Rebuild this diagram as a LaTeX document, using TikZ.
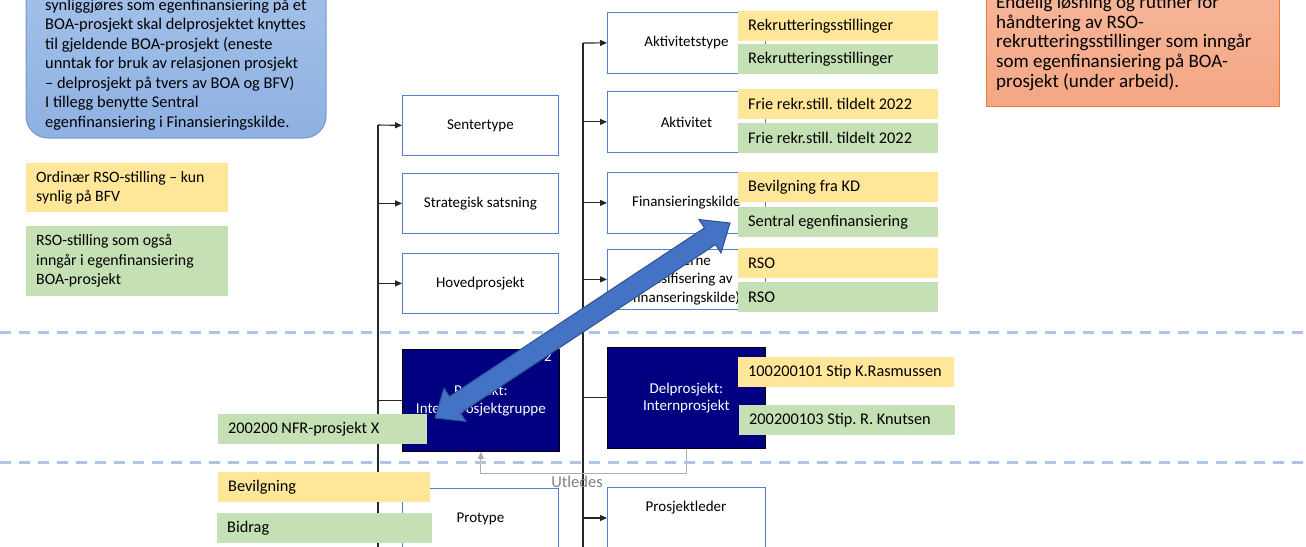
\documentclass[tikz,border=0pt]{standalone}
\usepackage{fontspec}
\setmainfont{Carlito}
\usetikzlibrary{arrows.meta,calc}
\frenchspacing

\definecolor{boxblue}{RGB}{82,128,210}
\definecolor{yelfill}{RGB}{255,230,153}
\definecolor{grnfill}{RGB}{197,224,180}
\definecolor{navyfill}{RGB}{0,0,128}
\definecolor{sepblue}{RGB}{176,196,230}
\definecolor{arrowblue}{RGB}{68,114,196}
\definecolor{arrowline}{RGB}{47,82,143}
\definecolor{notetop}{RGB}{165,195,234}
\definecolor{notebot}{RGB}{143,177,226}
\definecolor{noteline}{RGB}{112,152,214}
\definecolor{orgtop}{RGB}{246,186,158}
\definecolor{orgbot}{RGB}{245,166,132}
\definecolor{orgline}{RGB}{237,125,49}

\begin{document}
\begin{tikzpicture}[x=1pt,y=-1pt,
    box/.style={draw=boxblue, line width=0.8pt, fill=white, minimum width=156pt, minimum height=60pt, inner sep=0pt, anchor=north west, align=center, font=\fontsize{15}{18.5}\selectfont},
    dark/.style={draw=black, line width=0.8pt, fill=navyfill, text=white, minimum width=157pt, minimum height=102pt, inner sep=0pt, anchor=north west, align=center, font=\fontsize{15}{17.5}\selectfont},
    lab/.style={minimum height=30pt, text width=#1, inner xsep=10pt, inner ysep=0pt, anchor=north west, align=flush left, font=\fontsize{16.3}{19}\selectfont},
    lab/.default=180pt,
    ylab/.style={lab=#1, fill=yelfill}, ylab/.default=180pt,
    glab/.style={lab=#1, fill=grnfill}, glab/.default=180pt,
    trunk/.style={line width=1.1pt, black!85},
    feed/.style={trunk, -{Triangle[length=7pt,width=6pt]}},
    utl/.style={line width=1.1pt, black!32, -{Triangle[length=7pt,width=6pt]}},
    sep/.style={line width=3pt, sepblue, dash pattern=on 11pt off 8pt},
    note/.style={anchor=north west, inner sep=0pt, align=left, font=\fontsize{16.4}{19.5}\selectfont}]
  \useasboundingbox (0,0) rectangle (1306,546);
  \clip (0,0) rectangle (1306,546);

  % notes
  \shade[top color=notetop, bottom color=notebot, draw=noteline, line width=1pt, rounded corners=22pt] (26,-40) rectangle (326,138);
  \node[note] (bnote) at (45,-1.5) {synliggjøres som egenfinansiering på et\\BOA-prosjekt skal delprosjektet knyttes\\til gjeldende BOA-prosjekt (eneste\\unntak for bruk av relasjonen prosjekt\\– delprosjekt på tvers av BOA og BFV)\\I tillegg benytte Sentral\\egenfinansiering i Finansieringskilde.};
  \shade[top color=orgtop, bottom color=orgbot, draw=orgline, line width=1pt] (986,-40) rectangle (1279,106);
  \node[note, font=\fontsize{19}{19.75}\selectfont] (onote) at (996,-5) {Endelig løsning og rutiner for\\håndtering av RSO-\\rekrutteringsstillinger som inngår\\som egenfinansiering på BOA-\\prosjekt (under arbeid).};
  \node[ylab=182pt, minimum height=49pt, font=\fontsize{15.8}{19.5}\selectfont] (legy) at (26,163) {Ordinær RSO-stilling – kun\\synlig på BFV};
  \node[glab=182pt, minimum height=70pt, font=\fontsize{15.8}{19.5}\selectfont] (legg) at (26,226) {RSO-stilling som også\\inngår i egenfinansiering\\BOA-prosjekt};

  % trunks
  \coordinate (ltop) at (378,125);
  \coordinate (lbot) at (378,560);
  \coordinate (rtop) at (583,43);
  \coordinate (rbot) at (583,560);
  \coordinate (plin) at (607,518);
  \draw[trunk] (ltop) -- (lbot);
  \draw[trunk] (rtop) -- (rbot);

  % left column
  \node[box] (sent) at (402,95) {Sentertype};
  \node[box] (strat) at (402,173) {Strategisk satsning};
  \node[box] (hoved) at (402,253) {Hovedprosjekt};
  \node[dark] (pros) at (402,349) {Prosjekt:\\Internprosjektgruppe};
  \node[text=white, font=\fontsize{15}{18}\selectfont] (num) at (548,357) {2};
  \node[box] (prot) at (402,488) {Protype};

  % right column
  \node[box, minimum width=158pt, minimum height=61pt] (akttype) at (607,12) {Aktivitetstype};
  \node[box, minimum width=158pt, minimum height=61pt] (akt) at (607,91) {Aktivitet};
  \node[box, minimum width=158pt, minimum height=61pt] (fin) at (607,172) {Finansieringskilde};
  \node[box, minimum width=158pt] (det) at (607,249) {(Interne\\spesifisering av\\finanseringskilde)};
  \node[dark, minimum width=158pt, minimum height=101pt] (delp) at (607,347) {Delprosjekt:\\Internprosjekt};
  \node[box, minimum width=158pt, minimum height=80pt] (pl) at (607,487) {};
  \node[font=\fontsize{15}{18}\selectfont] (pltxt) at (686,508) {Prosjektleder};

  \draw[feed] (ltop) -- (sent.west);
  \draw[feed] (strat.west -| ltop) -- (strat.west);
  \draw[feed] (hoved.west -| ltop) -- (hoved.west);
  \draw[trunk] (pros.west -| ltop) -- (pros.west);
  \draw[feed] (rtop) -- (akttype.west);
  \draw[feed] (akt.west -| rtop) -- (akt.west);
  \draw[feed] (fin.west -| rtop) -- (fin.west);
  \draw[feed] (det.west -| rtop) -- (det.west);
  \draw[trunk] (delp.west -| rtop) -- (delp.west);
  \draw[feed] (plin -| rtop) -- (plin);

  \draw[utl] (delp.south) -- ++(0,25) -| (pros.south);
  \node[text=black!50, font=\fontsize{16.5}{19}\selectfont] (utledes) at (577,482) {Utledes};

  \draw[sep] (0,332) -- (1306,332);
  \draw[sep] (0,462) -- (1306,462);

  % labels
  \node[ylab] (rek1) at (738,11) {Rekrutteringsstillinger};
  \node[glab] (rek2) at (738,44) {Rekrutteringsstillinger};
  \node[ylab] (frie1) at (738,89) {Frie rekr.still. tildelt 2022};
  \node[glab] (frie2) at (738,123) {Frie rekr.still. tildelt 2022};
  \node[ylab] (bev) at (738,172) {Bevilgning fra KD};
  \node[glab] (sentral) at (738,207) {Sentral egenfinansiering};
  \node[ylab] (rso1) at (738,248) {RSO};
  \node[glab] (rso2) at (738,282) {RSO};
  \node[ylab=196pt] (stip1) at (738,357) {100200101 Stip K.Rasmussen};
  \node[glab=196pt] (stip2) at (739,405) {200200103 Stip. R. Knutsen};
  \node[glab=189pt] (nfr) at (218,414) {200200 NFR-prosjekt X};
  \node[ylab=192pt] (bevl) at (218,472) {Bevilgning};
  \node[glab=195pt] (bidrag) at (217,513) {Bidrag};

  % block arrow
  \coordinate (ba) at (435,418);
  \coordinate (bb) at (730,223);
  \coordinate (ha) at ($(ba)!24pt!(bb)$);
  \coordinate (hb) at ($(bb)!24pt!(ba)$);
  \filldraw[fill=arrowblue, draw=arrowline, line width=1pt]
    (ba) -- ($(ha)!20pt!90:(bb)$) -- ($(ha)!10pt!90:(bb)$) -- ($(hb)!10pt!-90:(ba)$) -- ($(hb)!20pt!-90:(ba)$)
    -- (bb) -- ($(hb)!20pt!90:(ba)$) -- ($(hb)!10pt!90:(ba)$) -- ($(ha)!10pt!-90:(bb)$) -- ($(ha)!20pt!-90:(bb)$) -- cycle;
\end{tikzpicture}
\end{document}
